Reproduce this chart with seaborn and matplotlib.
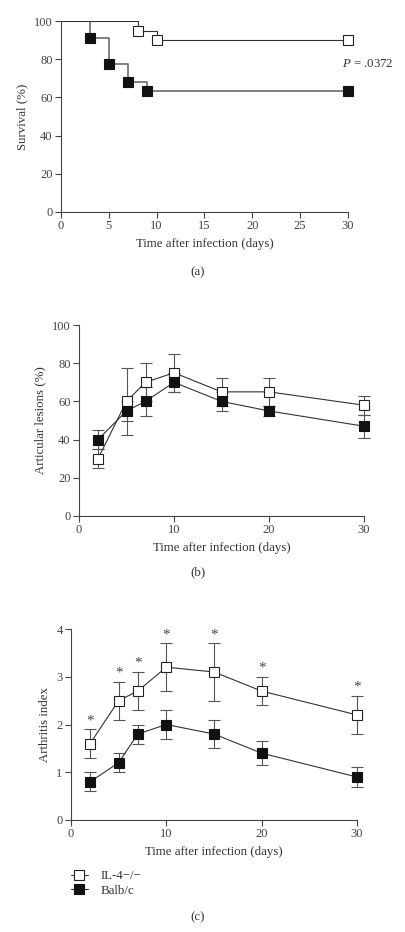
import matplotlib
matplotlib.use("Agg")
import matplotlib.pyplot as plt
import seaborn as sns
import pandas as pd

# (a) survival curves (Kaplan-Meier steps)
km_il4_days = [0, 8, 10, 30]
km_il4_surv = [100, 95, 90, 90]
km_balb_days = [0, 3, 5, 7, 9, 30]
km_balb_surv = [100, 90.9, 77.3, 68.2, 63.6, 63.6]
p_value_text = "= .0372"

# (b) articular lesions (%) and (c) arthritis index
days = [2, 5, 7, 10, 15, 20, 30]
les_il4 = [30, 60, 70, 75, 65, 65, 58]
les_il4_err = [5, 17.5, 10, 10, 7.5, 7.5, 5]
les_balb = [40, 55, 60, 70, 60, 55, 47]
les_balb_err = [5, 5, 7.5, 5, 5, 2.5, 6]

art_il4 = [1.6, 2.5, 2.7, 3.2, 3.1, 2.7, 2.2]
art_il4_err = [0.3, 0.4, 0.4, 0.5, 0.6, 0.3, 0.4]
art_balb = [0.8, 1.2, 1.8, 2.0, 1.8, 1.4, 0.9]
art_balb_err = [0.2, 0.2, 0.2, 0.3, 0.3, 0.25, 0.2]

labels = ["IL-4\u2212/\u2212", "Balb/c"]

sns.set_style("ticks")
plt.rcParams['font.family'] = ['Liberation Serif', 'DejaVu Serif']
plt.rcParams['mathtext.fontset'] = 'custom'
plt.rcParams['mathtext.it'] = 'Liberation Serif:italic'
plt.rcParams['mathtext.rm'] = 'Liberation Serif'
plt.rcParams['font.size'] = 9.3
plt.rcParams['axes.edgecolor'] = '#444444'
plt.rcParams['xtick.color'] = '#444444'
plt.rcParams['ytick.color'] = '#444444'
plt.rcParams['text.color'] = '#333333'
plt.rcParams['axes.labelcolor'] = '#333333'

FS = 9.3
W, H = 405, 932
fig = plt.figure(figsize=(W / 100, H / 100), dpi=100)


def axes_px(left, right, top, bottom):
    return fig.add_axes([left / W, 1 - bottom / H, (right - left) / W, (bottom - top) / H])


def style_axes(ax):
    sns.despine(ax=ax)
    ax.tick_params(direction='out', length=4, width=0.8, labelsize=9, pad=2)
    for s in ax.spines.values():
        s.set_linewidth(0.8)
    ax.set_xlabel("Time after infection (days)", fontsize=FS, labelpad=4)


open_kw = dict(marker='s', markersize=7.3, markerfacecolor='white', markeredgecolor='#222222',
               markeredgewidth=0.8, clip_on=False)
fill_kw = dict(marker='s', markersize=7.3, markerfacecolor='#111111', markeredgecolor='#111111',
               markeredgewidth=0.8, clip_on=False)

# ---------- (a) ----------
ax = axes_px(61, 348, 21, 212)
km1 = pd.DataFrame({'day': km_il4_days, 'surv': km_il4_surv})
km2 = pd.DataFrame({'day': km_balb_days, 'surv': km_balb_surv})
sns.lineplot(data=km2, x='day', y='surv', drawstyle='steps-post', color='#777777', lw=1.3, ax=ax)
sns.lineplot(data=km1, x='day', y='surv', drawstyle='steps-post', color='#333333', lw=0.8, ax=ax)
ax.plot(km_balb_days[1:], km_balb_surv[1:], ls='none', zorder=4, **fill_kw)
ax.plot(km_il4_days[1:], km_il4_surv[1:], ls='none', zorder=4, **open_kw)
ax.set_xlim(0, 30)
ax.set_ylim(0, 100)
ax.set_xticks(range(0, 31, 5))
ax.set_yticks(range(0, 101, 20))
ax.set_ylabel("Survival (%)", fontsize=FS)
style_axes(ax)
ax.text(29.4, 77.5, "$P$ " + p_value_text, ha='left', va='center', fontsize=FS)
fig.text(198 / W, 1 - 272 / H, "(a)", ha='center', va='center', fontsize=FS)


def panel(ax, y1, e1, y2, e2):
    sns.lineplot(x=days, y=y1, color='#333333', lw=0.8, ax=ax, zorder=3, **open_kw)
    sns.lineplot(x=days, y=y2, color='#333333', lw=0.8, ax=ax, zorder=4, **fill_kw)
    for y, e in [(y1, e1), (y2, e2)]:
        eb = ax.errorbar(days, y, yerr=e, fmt='none', ecolor='#555555', elinewidth=0.8,
                         capsize=4.5, capthick=0.8, zorder=2)
        for art in eb.get_children():
            art.set_clip_on(False)
    ax.set_xlim(0, 30)
    ax.set_xticks(range(0, 31, 10))
    style_axes(ax)


# ---------- (b) ----------
ax = axes_px(79, 364, 325, 516)
panel(ax, les_il4, les_il4_err, les_balb, les_balb_err)
ax.set_ylim(0, 100)
ax.set_yticks(range(0, 101, 20))
ax.set_ylabel("Articular lesions (%)", fontsize=FS)
fig.text(198 / W, 1 - 572 / H, "(b)", ha='center', va='center', fontsize=FS)

# ---------- (c) ----------
ax = axes_px(71, 357, 629, 820)
panel(ax, art_il4, art_il4_err, art_balb, art_balb_err)
ax.set_ylim(0, 4)
ax.set_yticks(range(0, 5))
ax.set_ylabel("Arthritis index", fontsize=FS)
for x, y, e in zip(days, art_il4, art_il4_err):
    ax.annotate("*", (x, y + e), xytext=(0, 1.5), textcoords='offset points',
                ha='center', va='bottom', fontsize=11, color='#444444')
h1, = ax.plot([], [], color='#333333', lw=0.8, **open_kw)
h2, = ax.plot([], [], color='#333333', lw=0.8, **fill_kw)
fig.legend([h1, h2], labels, loc='upper left', bbox_to_anchor=(71 / W, 1 - 870 / H),
           frameon=False, fontsize=FS, handlelength=1.3, handletextpad=1.0,
           labelspacing=0.2, borderpad=0, borderaxespad=0)
fig.text(198 / W, 1 - 917 / H, "(c)", ha='center', va='center', fontsize=FS)

fig.savefig("out.png", dpi=100)
